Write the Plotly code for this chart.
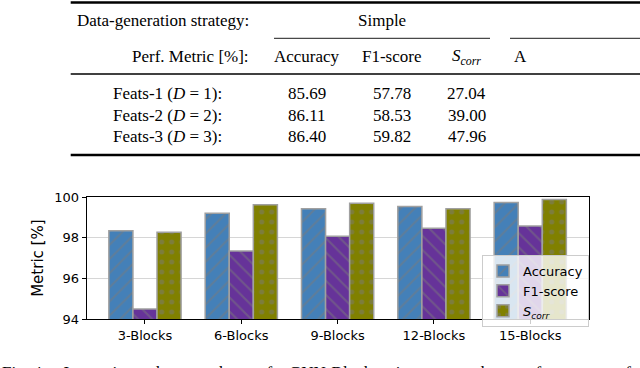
import plotly.graph_objects as go

# Bar chart data
blocks = ["3-Blocks", "6-Blocks", "9-Blocks", "12-Blocks", "15-Blocks"]
accuracy = [98.35, 99.20, 99.42, 99.53, 99.73]
f1_score = [94.50, 97.35, 98.08, 98.47, 98.58]
s_corr = [98.27, 99.62, 99.69, 99.42, 99.88]

# Table content above the chart
table_rows = ["Feats-1 (<i>D</i> = 1):", "Feats-2 (<i>D</i> = 2):", "Feats-3 (<i>D</i> = 3):"]
table_cols = ["Accuracy", "F1-score", "<i>S</i><sub><i>corr</i></sub>"]
table_vals = [["85.69", "57.78", "27.04"],
              ["86.11", "58.53", "39.00"],
              ["86.40", "59.82", "47.96"]]
caption_words = ["Fig. 4:", "Increasing", "the", "number", "of", "GNN-Blocks",
                 "improves", "the", "performance", "of"]

W, H = 640, 368


def px(x):
    return x / W


def py(y):
    return 1 - y / H


serif = "Liberation Serif"
sans = "DejaVu Sans"
edge = "#a0a0a0"

fig = go.Figure()
series = [("Accuracy", accuracy, "#4480b8", "/"),
          ("F1-score", f1_score, "#663399", "\\"),
          ("<i>S</i><sub><i>corr</i></sub>", s_corr, "#808000", ".")]
for name, vals, col, hatch in series:
    fig.add_trace(go.Bar(
        x=blocks, y=vals, name=name,
        marker=dict(color=col, line=dict(color=edge, width=1.5),
                    pattern=dict(shape=hatch, fgcolor="#7a7a7a", size=10, solidity=0.2)),
    ))

fig.update_layout(
    width=W, height=H,
    margin=dict(l=0, r=0, t=0, b=0),
    paper_bgcolor="white", plot_bgcolor="white",
    barmode="group", bargap=0.25, bargroupgap=0,
    font=dict(family=sans, size=13, color="black"),
    showlegend=True,
    legend=dict(x=px(482), y=py(255), xanchor="left", yanchor="top",
                bgcolor="rgba(255,255,255,0.8)", bordercolor="#cccccc", borderwidth=1,
                font=dict(family=sans, size=13), tracegroupgap=0, itemwidth=30),
    xaxis=dict(domain=[px(86.7), px(589)], range=[-0.605, 4.61], automargin=False,
               showline=True, linecolor="black", linewidth=1.2, mirror=True,
               ticks="outside", ticklen=4, tickcolor="black", showgrid=False,
               tickfont=dict(family=sans, size=13)),
    yaxis=dict(domain=[py(319.3), py(197)], range=[94, 100], tickvals=[94, 96, 98, 100],
               automargin=False,
               showline=True, linecolor="black", linewidth=1.2, mirror=True,
               ticks="outside", ticklen=4, tickcolor="black",
               showgrid=True, gridcolor="#d6d6d6", gridwidth=1, zeroline=False,
               title=dict(text="Metric [%]", font=dict(family=sans, size=15), standoff=6),
               tickfont=dict(family=sans, size=13)),
)

# --- table drawn with shapes and annotations ---
rules = [(70.7, 2.5, 2.4), (70.7, 74, 1.3), (70.7, 155, 2.4)]
for x0, y, w in rules:
    fig.add_shape(type="line", xref="paper", yref="paper", x0=px(x0), x1=1, y0=py(y), y1=py(y),
                  line=dict(color="black", width=w))
for x0, x1 in [(274, 490), (510, 640)]:
    fig.add_shape(type="line", xref="paper", yref="paper", x0=px(x0), x1=px(x1), y0=py(38.3), y1=py(38.3),
                  line=dict(color="black", width=0.9))


def txt(s, x, y, anchor="center", size=17):
    fig.add_annotation(text=s, x=px(x), y=py(y), xref="paper", yref="paper",
                       xanchor=anchor, yanchor="middle", showarrow=False,
                       font=dict(family=serif, size=size, color="black"))


txt("Data-generation strategy:", 251, 20.7, "right")
txt("Simple", 381.7, 20.7)
txt("Perf. Metric [%]:", 251, 56.7, "right")
col_x = [306.7, 391.7, 466.7]
for cx, c in zip(col_x, table_cols):
    txt(c, cx, 56.7)
txt("A", 512, 56.7, "left")
row_y = [93.3, 115, 137]
for ry, lab, vals in zip(row_y, table_rows, table_vals):
    txt(lab, 167, ry)
    for cx, v in zip(col_x, vals):
        txt(v, cx, ry)

# caption partly cut at the bottom of the page (justified look via wider gaps)
fig.add_annotation(text="&nbsp;&nbsp;&nbsp; ".join(caption_words),
                   x=0, y=py(373), xref="paper", yref="paper", xanchor="left", yanchor="middle",
                   showarrow=False, font=dict(family=serif, size=17, color="black"))

# drop the default body margin so the figure sits at the page corner
fig.write_html("out.html", config={"displayModeBar": False},
               post_script="document.body.style.margin='0';")
